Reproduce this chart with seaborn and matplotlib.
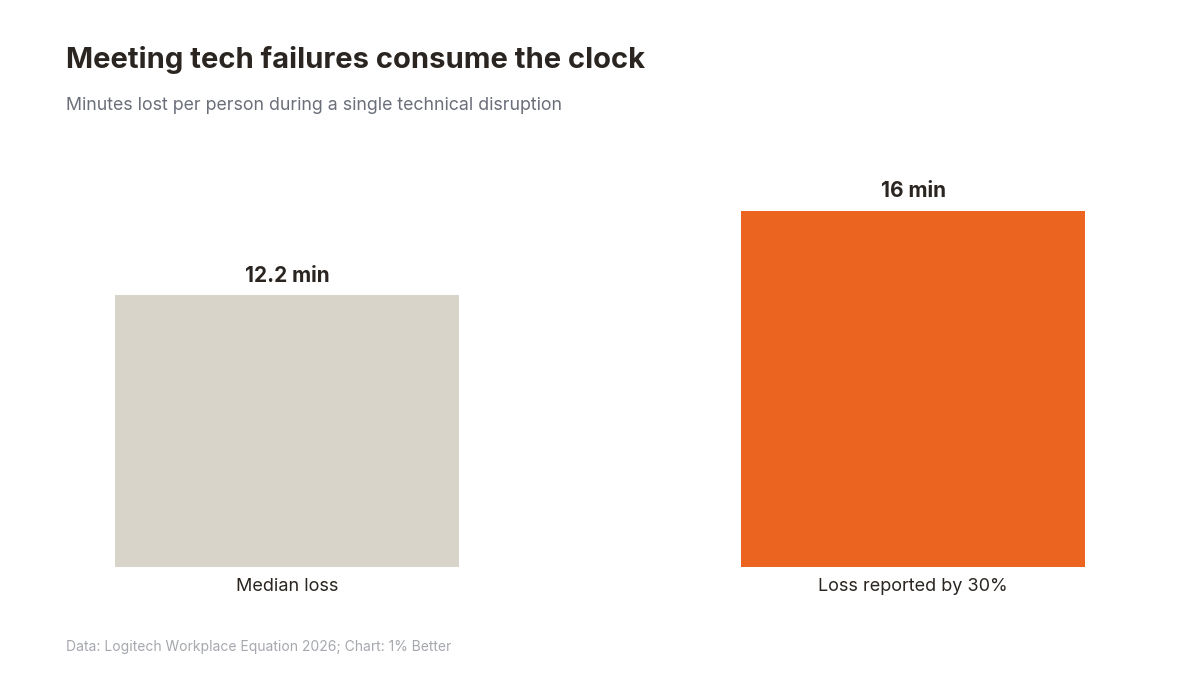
import matplotlib
matplotlib.use("Agg")
import matplotlib.pyplot as plt
import seaborn as sns
import pandas as pd

categories = ["Median loss", "Loss reported by 30%"]
minutes = [12.2, 16]
bar_colors = ["#D9D4CA", "#EC6520"]

sns.set_theme(style="white")
plt.rcParams['font.family'] = ['Inter', 'DejaVu Sans']

df = pd.DataFrame({"category": categories, "minutes": minutes})

fig = plt.figure(figsize=(12, 6.75), dpi=100)
ax = fig.add_axes([0.055, 0.16, 0.89, 0.618])

sns.barplot(data=df, x="category", y="minutes", hue="category",
            palette=bar_colors, width=0.55, saturation=1, legend=False,
            linewidth=0, ax=ax)

ax.set_xlim(-0.353, 1.353)
ax.set_ylim(0, 18.74)
ax.set_xlabel("")
ax.set_ylabel("")
ax.set_yticks([])
sns.despine(ax=ax, left=True, bottom=True)
ax.tick_params(axis="x", length=0, pad=8, labelsize=13, labelcolor="#2A2520")

# value labels above bars
for i, v in enumerate(minutes):
    ax.annotate(f"{v:g} min", (i, v), xytext=(0, 7), textcoords="offset points",
                ha="center", va="bottom", fontsize=15, fontweight="bold", color="#2A2520")

fig.text(0.055, 0.899, "Meeting tech failures consume the clock", fontsize=21,
         fontweight="bold", color="#2A2520", va="baseline")
fig.text(0.055, 0.837, "Minutes lost per person during a single technical disruption",
         fontsize=12.8, color="#6B6F7A", va="baseline")
fig.text(0.055, 0.036, "Data: Logitech Workplace Equation 2026; Chart: 1% Better",
         fontsize=10, color="#A5A8AE", va="baseline")

fig.savefig("out.png", dpi=100)
